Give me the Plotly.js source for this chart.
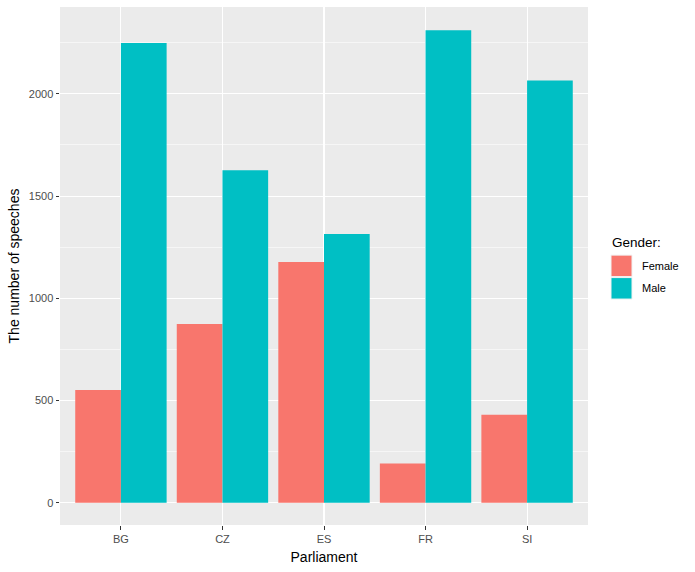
<!DOCTYPE html>
<html>
<head>
<meta charset="utf-8">
<script src="https://cdn.plot.ly/plotly-3.0.1.min.js"></script>
<style>html,body{margin:0;padding:0;background:#fff;}#chart{width:695px;height:572px;}</style>
</head>
<body>
<div id="chart"></div>
<script>
const parliaments = ["BG", "CZ", "ES", "FR", "SI"];
const femaleSpeeches = [552, 874, 1177, 192, 430];
const maleSpeeches = [2249, 1627, 1314, 2311, 2066];
const yTickVals = [0, 500, 1000, 1500, 2000];
const genders = ["Female", "Male"];
const genderColors = ["#F8766D", "#00BFC4"];

const traces = [
  {type: "bar", name: genders[0], x: parliaments, y: femaleSpeeches,
   marker: {color: genderColors[0], line: {width: 0}}, showlegend: false, hoverinfo: "x+y+name"},
  {type: "bar", name: genders[1], x: parliaments, y: maleSpeeches,
   marker: {color: genderColors[1], line: {width: 0}}, showlegend: false, hoverinfo: "x+y+name"}
];

// Plot area in pixels: x 60..588, y 6.5..525.3
const L = 60, R = 588, T = 6.5, B = 525.3, W = 695, H = 572;
const pw = R - L, ph = B - T;
const px = v => (v - L) / pw;
const py = v => (B - v) / ph;

const keyX0 = 611, keyX1 = 632;
const keyTops = [255, 277.5];
const keyH = 21.5;

const shapes = genders.map((g, i) => ({
  type: "rect", xref: "paper", yref: "paper",
  x0: px(keyX0), x1: px(keyX1), y0: py(keyTops[i] + keyH), y1: py(keyTops[i]),
  fillcolor: genderColors[i], line: {width: 1, color: "#F2F2F2"}, layer: "above"
}));

const annotations = [
  {xref: "paper", yref: "paper", x: px(610), y: py(242), xanchor: "left", yanchor: "middle",
   text: "Gender:", showarrow: false, font: {family: "Liberation Sans, Arial, sans-serif", size: 13.5, color: "#000"}}
].concat(genders.map((g, i) => ({
  xref: "paper", yref: "paper", x: px(640), y: py(keyTops[i] + keyH / 2), xanchor: "left", yanchor: "middle",
  text: g, showarrow: false, font: {family: "Liberation Sans, Arial, sans-serif", size: 11, color: "#000"}
})));

const layout = {
  width: W, height: H,
  margin: {l: L, r: W - R, t: T, b: H - B, pad: 0},
  paper_bgcolor: "#FFFFFF",
  plot_bgcolor: "#EBEBEB",
  barmode: "group",
  bargap: 0.1,
  bargroupgap: 0,
  font: {family: "Liberation Sans, Arial, sans-serif", color: "#4D4D4D", size: 11},
  xaxis: {
    type: "category",
    range: [-0.6, 4.6],
    showgrid: true, gridcolor: "#FFFFFF", gridwidth: 1.1,
    zeroline: false, showline: false,
    ticks: "outside", ticklen: 3.5, tickcolor: "#333333", tickwidth: 1,
    tickfont: {size: 11, color: "#4D4D4D"},
    title: {text: "Parliament", font: {size: 14, color: "#000"}, standoff: 8}
  },
  yaxis: {
    range: [-109, 2425],
    tickvals: yTickVals,
    ticktext: yTickVals.map(String),
    showgrid: true, gridcolor: "#FFFFFF", gridwidth: 1.1,
    minor: {dtick: 250, tick0: 250, showgrid: true, gridcolor: "#FFFFFF", gridwidth: 0.55, ticks: ""},
    zeroline: false, showline: false,
    ticks: "outside", ticklen: 3.5, tickcolor: "#333333", tickwidth: 1,
    tickfont: {size: 11, color: "#4D4D4D"},
    title: {text: "The number of speeches", font: {size: 14, color: "#000"}, standoff: 5}
  },
  shapes: shapes,
  annotations: annotations,
  showlegend: false
};

Plotly.newPlot("chart", traces, layout, {displayModeBar: false, staticPlot: true});
</script>
</body>
</html>
